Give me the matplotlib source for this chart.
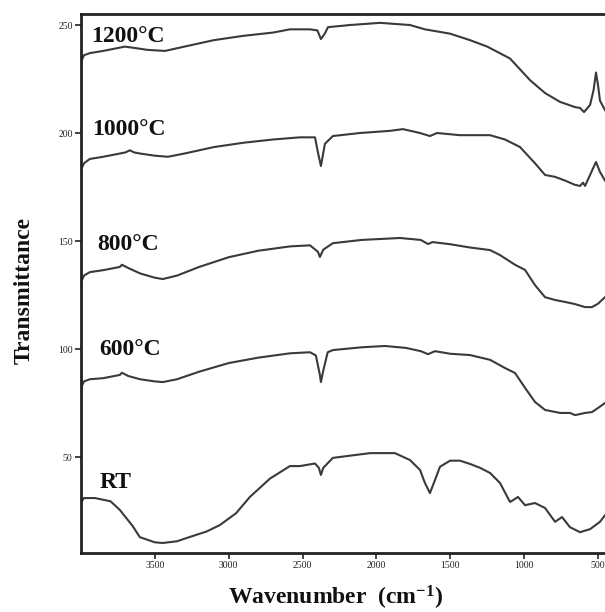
import matplotlib
matplotlib.use("Agg")
import matplotlib.pyplot as plt

plt.rcParams['font.family'] = ['Liberation Serif', 'DejaVu Serif']
plt.rcParams['mathtext.fontset'] = 'custom'
plt.rcParams['mathtext.rm'] = 'Liberation Serif:bold'
plt.rcParams['mathtext.bf'] = 'Liberation Serif:bold'
plt.rcParams['mathtext.it'] = 'Liberation Serif:bold:italic'

# ---- data ----
wn_1200 = [4000, 3980, 3940, 3850, 3703, 3650, 3550, 3432, 3300, 3100, 2900, 2700, 2586, 2450, 2400,
           2376, 2350, 2328, 2179, 1976, 1773, 1672, 1502, 1367, 1250, 1096, 961, 859, 757, 656, 622,
           595, 554, 530, 514, 500, 487, 453]
t_1200 = [233, 236, 237, 238, 240, 239.5, 238.5, 238, 240, 243, 245, 246.5, 248, 248, 247.5,
          243.5, 246, 249, 250, 251, 250, 248, 246, 243, 240, 234.5, 224.5, 218.5, 214.4, 212, 211.6,
          209.7, 213, 220, 228, 222, 215, 210.6]

wn_1000 = [4000, 3980, 3940, 3850, 3737, 3700, 3669, 3640, 3600, 3500, 3412, 3300, 3100, 2900, 2700,
           2518, 2416, 2396, 2376, 2349, 2295, 2112, 1909, 1821, 1705, 1638, 1590, 1435, 1231, 1130,
           1028, 927, 859, 791, 724, 656, 622, 602, 588, 554, 514, 487, 453]
t_1000 = [183, 186, 188, 189, 190.5, 191, 192, 191, 190.5, 189.5, 189, 190.5, 193.5, 195.5, 197,
          198, 198, 191, 184.7, 195, 198.6, 200, 201, 201.8, 200, 198.6, 200, 199, 199, 197,
          193.5, 186, 180.6, 179.7, 178, 176, 175.5, 177, 175.5, 180.6, 186.6, 182, 178]

wn_800 = [4000, 3980, 3940, 3850, 3737, 3723, 3680, 3600, 3500, 3446, 3350, 3200, 3000, 2800, 2586,
          2450, 2396, 2383, 2360, 2295, 2100, 1841, 1700, 1651, 1620, 1500, 1367, 1231, 1164, 1062,
          994, 927, 859, 791, 724, 656, 588, 541, 500, 453]
t_800 = [131, 134, 135.6, 136.5, 138, 139, 137.5, 135, 133, 132.4, 134, 138, 142.5, 145.5, 147.5,
         148, 145, 142.6, 146, 149, 150.5, 151.4, 150.5, 148.6, 149.5, 148.5, 147, 145.8, 143.5, 139,
         136.6, 129.6, 124, 122.7, 121.8, 120.8, 119.4, 119.4, 121, 124]

wn_600 = [4000, 3980, 3940, 3850, 3737, 3723, 3680, 3600, 3500, 3446, 3350, 3200, 3000, 2800, 2586,
          2450, 2410, 2383, 2376, 2360, 2330, 2295, 2100, 1942, 1800, 1700, 1651, 1604, 1500, 1367,
          1231, 1130, 1062, 994, 927, 859, 757, 690, 656, 588, 541, 500, 453]
t_600 = [82, 85, 86, 86.5, 88, 89, 87.5, 86, 85, 84.7, 86, 89.5, 93.5, 96, 98,
         98.5, 97, 88, 84.7, 90, 98.5, 99.5, 100.8, 101.4, 100.5, 99, 97.6, 99, 97.8, 97.2,
         95, 91.2, 88.9, 82, 75.5, 71.8, 70.4, 70.4, 69.4, 70.4, 70.8, 72.7, 75]

wn_rt = [4000, 3980, 3906, 3800, 3737, 3650, 3602, 3500, 3446, 3350, 3263, 3150, 3060, 2950, 2857,
         2721, 2586, 2518, 2416, 2390, 2376, 2360, 2295, 2044, 1875, 1773, 1705, 1672, 1638, 1604,
         1570, 1502, 1435, 1367, 1299, 1231, 1164, 1096, 1076, 1042, 994, 927, 859, 791, 744,
         690, 622, 554, 487, 453]
t_rt = [29, 31, 31, 29.5, 25.5, 18, 12.9, 10.5, 10.2, 11, 13, 15.5, 18.5, 24, 31.5,
        40, 45.8, 45.8, 47, 45, 41.7, 45, 49.6, 51.8, 51.8, 48.6, 44, 38, 33.3, 39.3,
        45.5, 48.3, 48.3, 46.8, 45, 42.6, 38, 29.2, 30, 31.5, 27.7, 28.7, 26.4, 20, 22.2,
        17.5, 15.2, 16.6, 20, 23]

series_labels = ["1200°C", "1000°C", "800°C", "600°C", "RT"]
label_x = [3933, 3927, 3893, 3879, 3872]
label_y = [242.1, 199.0, 145.8, 97.2, 35.6]

x_ticks = [3500, 3000, 2500, 2000, 1500, 1000, 500]
y_ticks = [50, 100, 150, 200, 250]

# ---- figure ----
W, H = 605, 612
fig = plt.figure(figsize=(W / 100, H / 100), dpi=100)
ax = fig.add_axes([81 / W, (H - 553) / H, (605 - 81) / W, (553 - 14) / H])

line_color = '#3a3a3a'
for wn, t in [(wn_1200, t_1200), (wn_1000, t_1000), (wn_800, t_800), (wn_600, t_600), (wn_rt, t_rt)]:
    ax.plot(wn, t, color=line_color, lw=1.5, solid_joinstyle='round')

for lab, lx, ly in zip(series_labels, label_x, label_y):
    ax.text(lx, ly, lab, fontsize=17, fontweight='bold', ha='left', va='baseline', color='#111111')

ax.set_xlim(4000, 453)
ax.set_ylim(5.56, 255.1)
ax.set_xticks(x_ticks)
ax.set_xticklabels([str(v) for v in x_ticks])
ax.set_yticks(y_ticks)
ax.set_yticklabels([str(v) for v in y_ticks])
ax.tick_params(axis='both', direction='out', length=4, width=1.2, labelsize=7, pad=2, colors='#222222')

for side in ['left', 'bottom', 'top']:
    ax.spines[side].set_linewidth(2)
    ax.spines[side].set_color('#222222')
ax.spines['right'].set_visible(False)

fig.text(24 / W, 1 - 291 / H, 'Transmittance', rotation=90, fontsize=17, fontweight='bold',
         ha='center', va='center', color='#111111')
fig.text(335 / W, 1 - 598 / H, r'Wavenumber  (cm$^{\mathbf{-1}}$)', fontsize=17, fontweight='bold',
         ha='center', va='center', color='#111111')

fig.savefig('out.png', dpi=100)
